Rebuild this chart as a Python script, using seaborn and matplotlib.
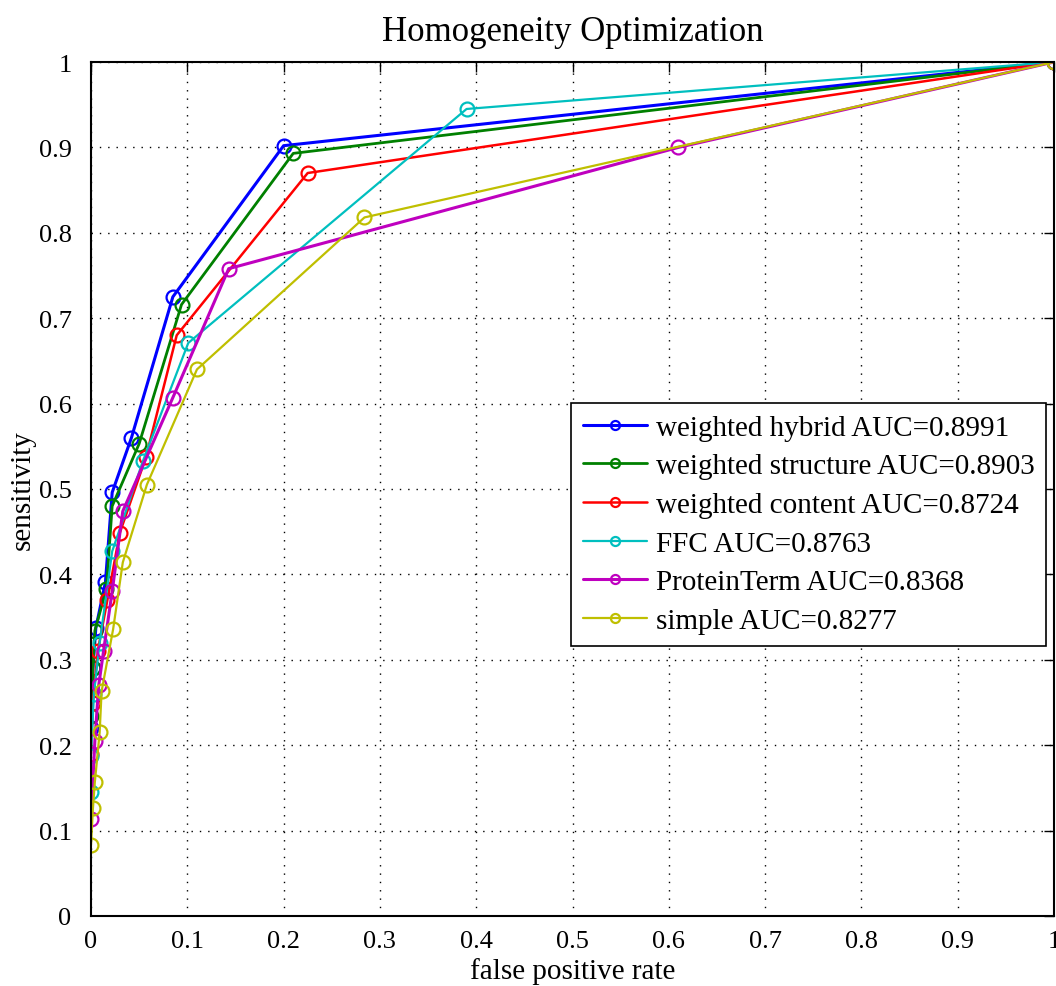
import matplotlib
matplotlib.use("Agg")
import matplotlib.pyplot as plt
import seaborn as sns
import pandas as pd

sns.set_theme(style="white")
plt.rcParams['font.family'] = ['Liberation Serif', 'DejaVu Serif']
plt.rcParams['text.color'] = 'black'
plt.rcParams['axes.labelcolor'] = 'black'

labels = ["weighted hybrid AUC=0.8991", "weighted structure AUC=0.8903",
          "weighted content AUC=0.8724", "FFC AUC=0.8763",
          "ProteinTerm AUC=0.8368", "simple AUC=0.8277"]
colors = ["#0000ff", "#008000", "#ff0000", "#00bfbf", "#bf00bf", "#bfbf00"]

hybrid_x = [0.000, 0.002, 0.005, 0.015, 0.022, 0.042, 0.085, 0.200, 1.0]
hybrid_y = [0.22, 0.29, 0.337, 0.391, 0.496, 0.560, 0.725, 0.902, 1.0]
structure_x = [0.000, 0.002, 0.004, 0.016, 0.022, 0.050, 0.094, 0.210, 1.0]
structure_y = [0.234, 0.29, 0.334, 0.383, 0.480, 0.553, 0.716, 0.893, 1.0]
content_x = [0.000, 0.002, 0.007, 0.017, 0.030, 0.057, 0.089, 0.225, 1.0]
content_y = [0.19, 0.25, 0.31, 0.37, 0.449, 0.537, 0.680, 0.870, 1.0]
ffc_x = [0.000, 0.000, 0.003, 0.009, 0.022, 0.054, 0.101, 0.390, 1.0]
ffc_y = [0.145, 0.187, 0.26, 0.32, 0.427, 0.533, 0.671, 0.945, 1.0]
protein_x = [0.000, 0.004, 0.008, 0.013, 0.022, 0.033, 0.085, 0.143, 0.610, 1.0]
protein_y = [0.114, 0.205, 0.27, 0.31, 0.38, 0.474, 0.607, 0.758, 0.900, 1.0]
simple_x = [0.000, 0.002, 0.004, 0.009, 0.011, 0.023, 0.033, 0.058, 0.110, 0.284, 1.0]
simple_y = [0.083, 0.126, 0.157, 0.215, 0.263, 0.336, 0.414, 0.505, 0.640, 0.818, 1.0]

series = [(hybrid_x, hybrid_y), (structure_x, structure_y), (content_x, content_y),
          (ffc_x, ffc_y), (protein_x, protein_y), (simple_x, simple_y)]
widths = [2.2, 2.0, 1.8, 1.6, 2.2, 1.6]

fig = plt.figure(figsize=(10.56, 9.87), dpi=100)
ax = fig.add_axes([91/1056, 70/987, 963/1056, 854/987])

for (xs, ys), lab, c, lw in zip(series, labels, colors, widths):
    df = pd.DataFrame({"x": xs, "y": ys})
    sns.lineplot(data=df, x="x", y="y", ax=ax, sort=False, estimator=None,
                 color=c, linewidth=lw, marker='o', markersize=10,
                 markerfacecolor='none', markeredgecolor=c, markeredgewidth=1.6,
                 label=lab)

ax.set_xlim(0, 1)
ax.set_ylim(0, 1)
ticks = [i / 10 for i in range(11)]
ticklabels = ["0", "0.1", "0.2", "0.3", "0.4", "0.5", "0.6", "0.7", "0.8", "0.9", "1"]
ax.set_xticks(ticks)
ax.set_yticks(ticks)
ax.set_xticklabels(ticklabels)
ax.set_yticklabels(ticklabels)
ax.tick_params(direction='in', length=7, width=1, top=True, right=True,
               labelsize=19, colors='black')
ax.tick_params(axis='x', pad=10)
ax.tick_params(axis='y', pad=14)
ax.grid(True, linestyle=(0, (1, 5)), color='black', linewidth=1.0)
for s in ax.spines.values():
    s.set_color('black')
    s.set_linewidth(1.5)
    s.set_visible(True)

ax.set_xlabel("false positive rate", fontsize=21, labelpad=4, color='black')
ax.set_ylabel("sensitivity", fontsize=21, labelpad=2, color='black')
ax.set_title("Homogeneity Optimization", fontsize=25, pad=16, color='black')

leg = ax.legend(loc='upper left', bbox_to_anchor=(0.4985, 0.601), fontsize=21,
                frameon=True, fancybox=False, edgecolor='black', framealpha=1,
                handlelength=2.2, handletextpad=0.3, labelspacing=0.42,
                borderpad=0.4, borderaxespad=0, markerscale=0.65)
leg.get_frame().set_linewidth(1.2)
for t in leg.get_texts():
    t.set_color('black')

fig.savefig("out.png", dpi=100)
